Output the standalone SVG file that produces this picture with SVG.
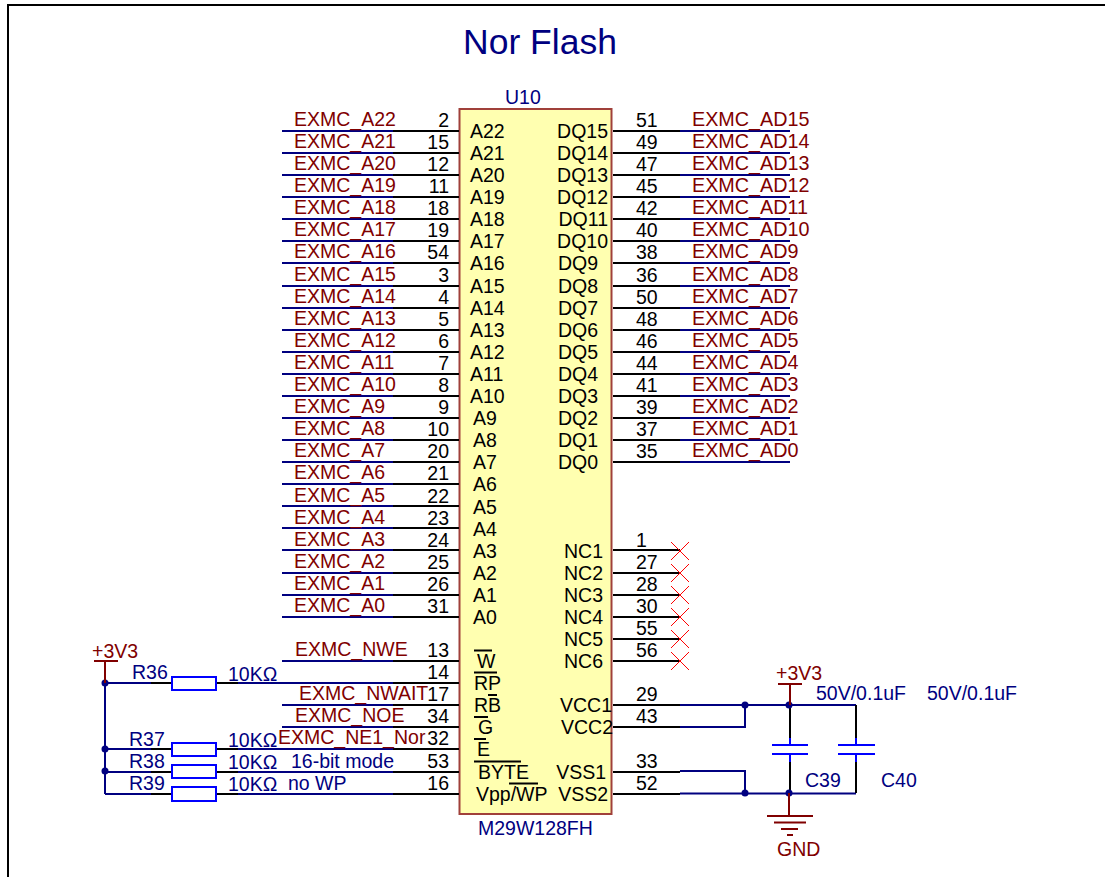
<svg xmlns="http://www.w3.org/2000/svg" width="1105" height="877" viewBox="0 0 1105 877">
<style>
text{font-family:"Liberation Sans",Arial,sans-serif;font-size:19.5px}
.r{fill:#800000}.b{fill:#000080}.k{fill:#000}
.e{text-anchor:end}
.ad{font-size:19.75px}
.wb{stroke:#000080;stroke-width:2;fill:none}
.wk{stroke:#000;stroke-width:2;fill:none}
.wr{stroke:#800000;stroke-width:2;fill:none}
.pb{stroke:#0000ff;stroke-width:2;fill:none}
.x{stroke:#ff0000;stroke-width:1;fill:none}
.d{fill:#000080}
</style>
<rect width="1105" height="877" fill="#fff"/>
<path d="M8 877V5H1105" fill="none" stroke="#000" stroke-width="2"/>
<text x="463" y="54" class="b" style="font-size:35.5px">Nor Flash</text>
<g id="U10">
<rect x="459.500" y="109" width="152" height="705" fill="#ffffb0" stroke="#a0403a" stroke-width="2"/>
<text x="505" y="104" class="b">U10</text>
<text x="478" y="835" class="b">M29W128FH</text>
<g class="k">
<text x="470" y="138">A22</text><text x="470" y="160">A21</text><text x="470" y="182">A20</text><text x="470" y="204">A19</text><text x="470" y="226">A18</text><text x="470" y="248">A17</text><text x="470" y="270">A16</text><text x="470" y="293">A15</text><text x="470" y="315">A14</text><text x="470" y="337">A13</text><text x="470" y="359">A12</text><text x="470" y="381">A11</text><text x="470" y="403">A10</text><text x="473" y="425">A9</text><text x="473" y="447">A8</text><text x="473" y="469">A7</text><text x="473" y="491">A6</text><text x="473" y="514">A5</text><text x="473" y="536">A4</text><text x="473" y="558">A3</text><text x="473" y="580">A2</text><text x="473" y="602">A1</text><text x="473" y="624">A0</text>
<text x="477" y="668">W</text><text x="474" y="690">RP</text><text x="474" y="712">RB</text><text x="478" y="734">G</text><text x="477" y="756">E</text><text x="478" y="779">BYTE</text><text x="476" y="801">Vpp/WP</text>
<text x="608" y="138" class="e">DQ15</text><text x="608" y="160" class="e">DQ14</text><text x="608" y="182" class="e">DQ13</text><text x="608" y="204" class="e">DQ12</text><text x="608" y="226" class="e">DQ11</text><text x="608" y="248" class="e">DQ10</text><text x="598" y="270" class="e">DQ9</text><text x="598" y="293" class="e">DQ8</text><text x="598" y="315" class="e">DQ7</text><text x="598" y="337" class="e">DQ6</text><text x="598" y="359" class="e">DQ5</text><text x="598" y="381" class="e">DQ4</text><text x="598" y="403" class="e">DQ3</text><text x="598" y="425" class="e">DQ2</text><text x="598" y="447" class="e">DQ1</text><text x="598" y="469" class="e">DQ0</text>
<text x="603" y="558" class="e">NC1</text><text x="603" y="580" class="e">NC2</text><text x="603" y="602" class="e">NC3</text><text x="603" y="624" class="e">NC4</text><text x="603" y="646" class="e">NC5</text><text x="603" y="668" class="e">NC6</text>
<text x="612" y="712" class="e">VCC1</text><text x="613" y="734" class="e">VCC2</text><text x="606" y="779" class="e">VSS1</text><text x="608" y="801" class="e">VSS2</text>
</g>
<path class="wk" d="M474 650.500H492M474 672.500H497M488 695H497M474 717H488M474 739H486M474 761.500H521M509 783.500H538"/>
<g class="k">
<text x="449" y="127" class="e">2</text><text x="449" y="149" class="e">15</text><text x="449" y="171" class="e">12</text><text x="449" y="193" class="e">11</text><text x="449" y="215" class="e">18</text><text x="449" y="237" class="e">19</text><text x="449" y="259" class="e">54</text><text x="449" y="282" class="e">3</text><text x="449" y="304" class="e">4</text><text x="449" y="326" class="e">5</text><text x="449" y="348" class="e">6</text><text x="449" y="370" class="e">7</text><text x="449" y="392" class="e">8</text><text x="449" y="414" class="e">9</text><text x="449" y="436" class="e">10</text><text x="449" y="458" class="e">20</text><text x="449" y="480" class="e">21</text><text x="449" y="503" class="e">22</text><text x="449" y="525" class="e">23</text><text x="449" y="547" class="e">24</text><text x="449" y="569" class="e">25</text><text x="449" y="591" class="e">26</text><text x="449" y="613" class="e">31</text><text x="449" y="657" class="e">13</text><text x="449" y="679" class="e">14</text><text x="449" y="701" class="e">17</text><text x="449" y="723" class="e">34</text><text x="449" y="745" class="e">32</text><text x="449" y="768" class="e">53</text><text x="449" y="790" class="e">16</text>
<text x="636" y="127">51</text><text x="636" y="149">49</text><text x="636" y="171">47</text><text x="636" y="193">45</text><text x="636" y="215">42</text><text x="636" y="237">40</text><text x="636" y="259">38</text><text x="636" y="282">36</text><text x="636" y="304">50</text><text x="636" y="326">48</text><text x="636" y="348">46</text><text x="636" y="370">44</text><text x="636" y="392">41</text><text x="636" y="414">39</text><text x="636" y="436">37</text><text x="636" y="458">35</text>
<text x="636" y="547">1</text><text x="636" y="569">27</text><text x="636" y="591">28</text><text x="636" y="613">30</text><text x="636" y="635">55</text><text x="636" y="657">56</text><text x="636" y="701">29</text><text x="636" y="723">43</text><text x="636" y="768">33</text><text x="636" y="790">52</text>
</g>
</g>
<g id="connectors">
<path class="wk" d="M393 131H459M393 153H459M393 175H459M393 197H459M393 219H459M393 241H459M393 263H459M393 286H459M393 308H459M393 330H459M393 352H459M393 374H459M393 396H459M393 418H459M393 440H459M393 462H459M393 484H459M393 506H459M393 528H459M393 550H459M393 573H459M393 595H459M393 617H459M393 661H459M393 683H459M393 705H459M393 727H459M393 749H459M393 772H459M393 794H459"/>
<path class="wb" d="M282 131H393M282 153H393M282 175H393M282 197H393M282 219H393M282 241H393M282 263H393M282 286H393M282 308H393M282 330H393M282 352H393M282 374H393M282 396H393M282 418H393M282 440H393M282 462H393M282 484H393M282 506H393M282 528H393M282 550H393M282 573H393M282 595H393M282 617H393M282 661H393M238 683H393M282 705H393M282 727H393M238 749H393M238 772H393M238 794H393"/>
<path class="wk" d="M613 131H680M613 153H680M613 175H680M613 197H680M613 219H680M613 241H680M613 263H680M613 286H680M613 308H680M613 330H680M613 352H680M613 374H680M613 396H680M613 418H680M613 440H680M613 462H680M613 550H680M613 573H680M613 595H680M613 617H680M613 639H680M613 661H680M613 705H680M613 727H680M613 772H680M613 794H680"/>
<path class="wb" d="M680 131H790M680 153H790M680 175H790M680 197H790M680 219H790M680 241H790M680 263H790M680 286H790M680 308H790M680 330H790M680 352H790M680 374H790M680 396H790M680 418H790M680 440H790M680 462H790"/>
<path class="x" d="M671 542L689 560M689 542L671 560M671 564L689 582M689 564L671 582M671 586L689 604M689 586L671 604M671 608L689 626M689 608L671 626M671 630L689 648M689 630L671 648M671 652L689 670M689 652L671 670"/>
<path class="wb" d="M105 683V794M105 683H151M105 749H151M105 772H151M105 794H151"/>
<path class="wk" d="M151 683H172M216 683H238M151 749H172M216 749H238M151 772H172M216 772H238M151 794H172M216 794H238"/>
<path class="wb" d="M680 705H856M680 727H745V705M680 771H745V793M680 793.500H856"/>
<path class="wk" d="M790 705V738M856 705V738M790 762V793M856 762V793"/>
<g class="d"><circle cx="105" cy="683" r="3.500"/><circle cx="105" cy="749" r="3.500"/><circle cx="105" cy="771" r="3.500"/><circle cx="745" cy="705" r="3.500"/><circle cx="789" cy="705" r="3.500"/><circle cx="745" cy="793" r="3.500"/><circle cx="789" cy="793" r="3.500"/></g>
</g>
<g id="nets" class="r" transform="translate(0,-1)">
<text x="294" y="127">EXMC_A22</text><text x="294" y="149">EXMC_A21</text><text x="294" y="171">EXMC_A20</text><text x="294" y="193">EXMC_A19</text><text x="294" y="215">EXMC_A18</text><text x="294" y="237">EXMC_A17</text><text x="294" y="259">EXMC_A16</text><text x="294" y="282">EXMC_A15</text><text x="294" y="304">EXMC_A14</text><text x="294" y="326">EXMC_A13</text><text x="294" y="348">EXMC_A12</text><text x="294" y="370">EXMC_A11</text><text x="294" y="392">EXMC_A10</text><text x="294" y="414">EXMC_A9</text><text x="294" y="436">EXMC_A8</text><text x="294" y="458">EXMC_A7</text><text x="294" y="480">EXMC_A6</text><text x="294" y="503">EXMC_A5</text><text x="294" y="525">EXMC_A4</text><text x="294" y="547">EXMC_A3</text><text x="294" y="569">EXMC_A2</text><text x="294" y="591">EXMC_A1</text><text x="294" y="613">EXMC_A0</text>
<text x="295" y="657">EXMC_NWE</text><text x="299" y="701">EXMC_NWAIT</text><text x="295" y="723">EXMC_NOE</text><text x="278" y="745">EXMC_NE1_Nor</text>
<text x="692" y="127" class="ad">EXMC_AD15</text><text x="692" y="149" class="ad">EXMC_AD14</text><text x="692" y="171" class="ad">EXMC_AD13</text><text x="692" y="193" class="ad">EXMC_AD12</text><text x="692" y="215" class="ad">EXMC_AD11</text><text x="692" y="237" class="ad">EXMC_AD10</text><text x="692" y="259" class="ad">EXMC_AD9</text><text x="692" y="282" class="ad">EXMC_AD8</text><text x="692" y="304" class="ad">EXMC_AD7</text><text x="692" y="326" class="ad">EXMC_AD6</text><text x="692" y="348" class="ad">EXMC_AD5</text><text x="692" y="370" class="ad">EXMC_AD4</text><text x="692" y="392" class="ad">EXMC_AD3</text><text x="692" y="414" class="ad">EXMC_AD2</text><text x="692" y="436" class="ad">EXMC_AD1</text><text x="692" y="458" class="ad">EXMC_AD0</text>
</g>
<g id="R36"><rect class="pb" x="172" y="677" width="44" height="13"/><text x="132" y="679" class="b">R36</text><text x="228" y="681" class="b">10KΩ</text></g>
<g id="R37"><rect class="pb" x="172" y="743" width="44" height="13"/><text x="129" y="746" class="b">R37</text><text x="228" y="747" class="b">10KΩ</text></g>
<g id="R38"><rect class="pb" x="172" y="765" width="44" height="13"/><text x="129" y="768" class="b">R38</text><text x="228" y="769" class="b">10KΩ</text><text x="291" y="768" class="b">16-bit mode</text></g>
<g id="R39"><rect class="pb" x="172" y="787" width="44" height="14"/><text x="129" y="790" class="b">R39</text><text x="228" y="791" class="b">10KΩ</text><text x="288" y="790" class="b">no WP</text></g>
<g id="C39"><path class="pb" d="M772 745H808M772 754H808M790 738V745M790 754V762"/><text x="816" y="700" class="b">50V/0.1uF</text><text x="805" y="787" class="b">C39</text></g>
<g id="C40"><path class="pb" d="M838 745H875M838 754H875M856 738V745M856 754V762"/><text x="927" y="700" class="b">50V/0.1uF</text><text x="881" y="787" class="b">C40</text></g>
<g id="PWR1"><path class="wr" d="M94 661H118M105 661V683"/><text x="92" y="658" class="r">+3V3</text></g>
<g id="PWR2"><path class="wr" d="M778 684H802M790 684V705"/><text x="776" y="680" class="r">+3V3</text></g>
<g id="GND"><path class="wr" d="M789 793V816M767 816H813M774 822.500H806M781 829H798M787 835H793"/><text x="777" y="856" class="r">GND</text></g>
</svg>
